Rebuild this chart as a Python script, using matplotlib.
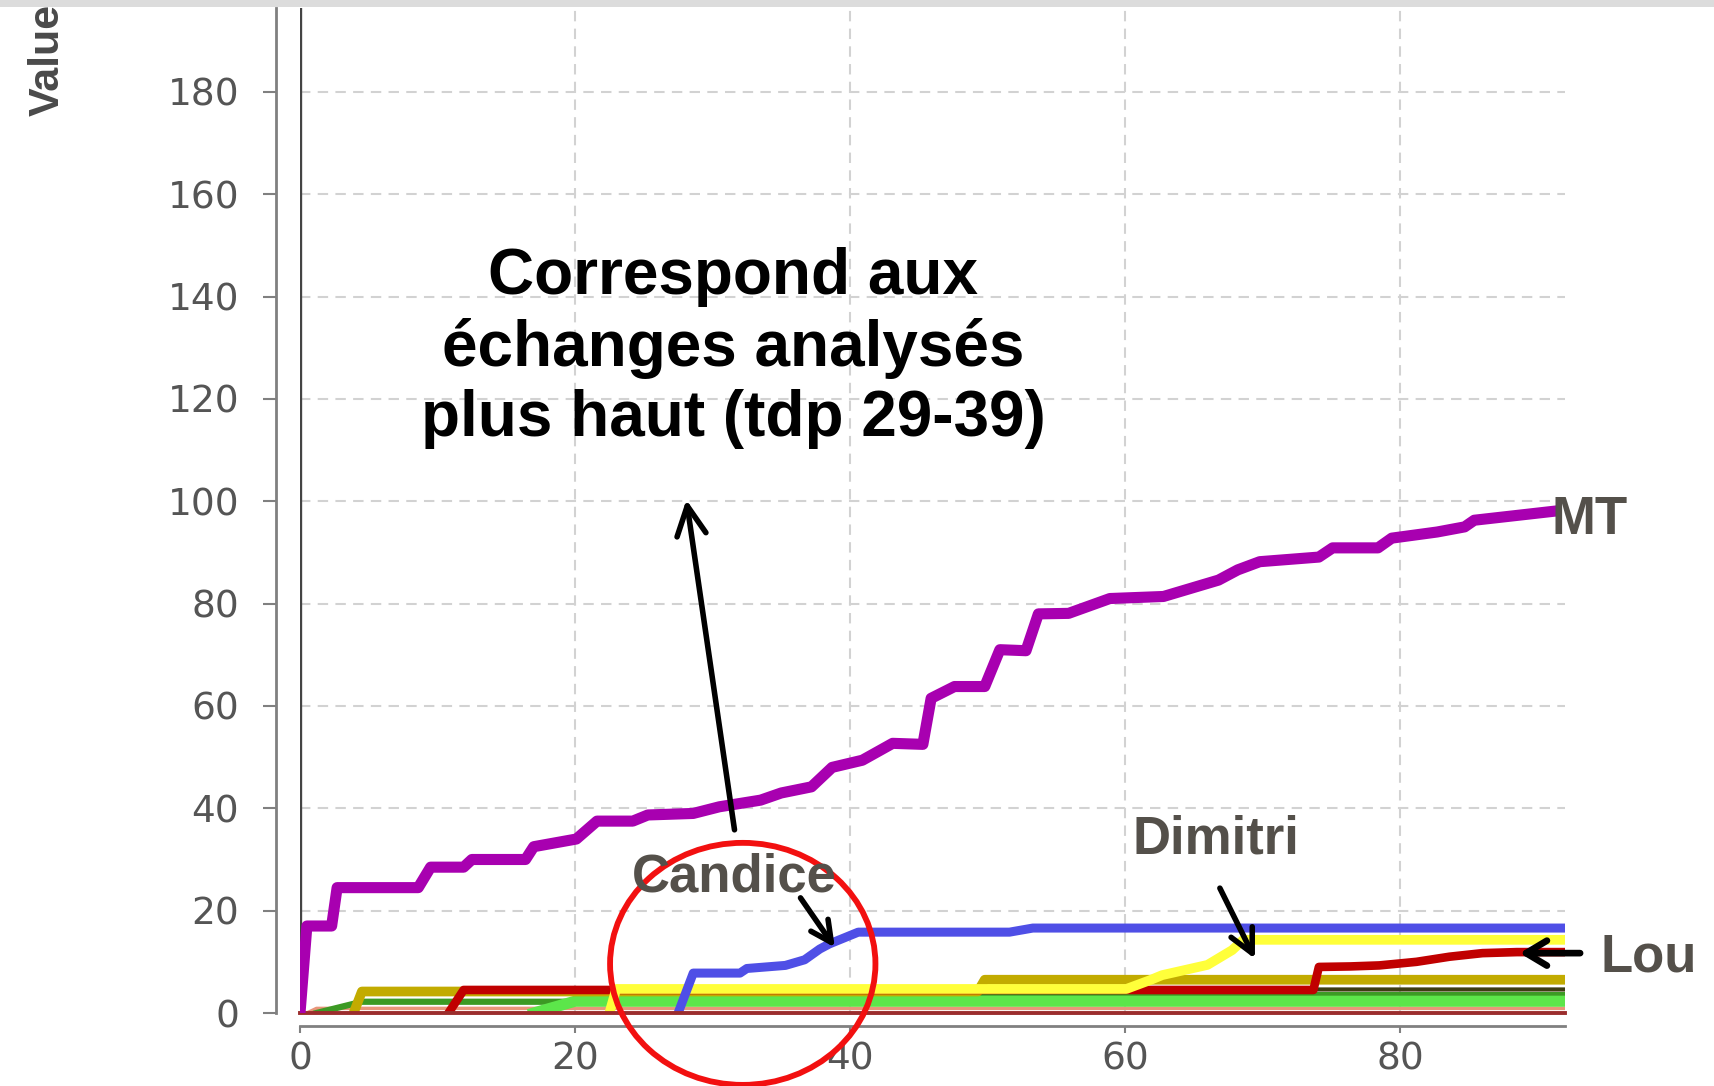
import matplotlib
matplotlib.use("Agg")
import matplotlib.pyplot as plt
from matplotlib.patches import Ellipse, Rectangle

# ---------------- data ----------------
mt_x = [0, 0.5, 2.3, 2.7, 8.6, 9.5, 11.9, 12.5, 16.4, 17.0, 20.1, 21.6, 24.2, 25.3,
        28.6, 30.5, 33.5, 35.0, 37.2, 38.7, 40.9, 43.1, 45.3, 45.9, 47.6, 49.8, 50.9,
        52.8, 53.7, 55.9, 58.9, 62.8, 64.8, 66.8, 68.2, 69.8, 74.1, 75.1, 78.4, 79.4,
        82.7, 84.7, 85.4, 88.7, 91.0]
mt_v = [0, 17, 17, 24.5, 24.5, 28.5, 28.5, 30, 30, 32.5, 34, 37.5, 37.5, 38.7,
        39, 40.3, 41.6, 43, 44.2, 48, 49.4, 52.7, 52.5, 61.5, 63.8, 63.8, 71,
        70.8, 78, 78.1, 81, 81.4, 83, 84.6, 86.6, 88.2, 89.1, 90.9, 90.9, 92.8,
        94, 95, 96.3, 97.3, 98]

candice_x = [27.5, 28.6, 32.0, 32.5, 35.3, 36.7, 37.8, 38.5, 40.6, 51.6, 53.3, 92]
candice_v = [0, 7.8, 7.8, 8.7, 9.3, 10.4, 12.5, 13.5, 15.8, 15.8, 16.6, 16.6]

dimitri_x = [22.5, 23.0, 60.1, 61.8, 62.7, 66.0, 67.8, 68.6, 92]
dimitri_v = [0, 4.7, 4.7, 6.4, 7.4, 9.4, 12.3, 14.3, 14.3]

lou_x = [10.8, 11.9, 73.7, 74.1, 76.4, 78.5, 81.2, 83.6, 86.0, 88.5, 92]
lou_v = [0, 4.5, 4.5, 9.0, 9.1, 9.3, 10.0, 11.0, 11.7, 11.9, 11.9]

olive_x = [3.9, 4.5, 49.3, 49.8, 92]
olive_v = [0, 4.2, 4.2, 6.5, 6.5]

dark_x = [10.8, 11.9, 92]
dark_v = [0, 4.6, 4.6]

dgreen_x = [1.2, 4.5, 46.0, 46.8, 92]
dgreen_v = [0, 2.2, 2.2, 3.5, 3.5]

lime_x = [17.0, 20.0, 92]
lime_v = [0, 2.3, 2.3]

salmon_x = [0.5, 1.2, 92]
salmon_v = [0, 0.9, 0.9]

base_x = [0, 92]
base_v = [0, 0]

x_ticks = [0, 20, 40, 60, 80]
y_ticks = [0, 20, 40, 60, 80, 100, 120, 140, 160, 180]

title_text = "Correspond aux\néchanges analysés\nplus haut (tdp 29-39)"

# ---------------- figure ----------------
W, H = 1715, 1086
fig = plt.figure(figsize=(W / 100, H / 100), dpi=100)
fig.patch.set_facecolor("white")

x0_px, y0_px = 300, 1013
px_x, px_y = 13.75, 5.117
xmax, ymax = 92, 196.5
ax = fig.add_axes([x0_px / W, (H - y0_px) / H, xmax * px_x / W, ymax * px_y / H])
ax.set_xlim(0, xmax)
ax.set_ylim(0, ymax)
ax.set_facecolor("white")

for s in ["top", "right"]:
    ax.spines[s].set_visible(False)
ax.spines["left"].set_position(("outward", 17.3))
ax.spines["bottom"].set_position(("outward", 9.4))
for s in ["left", "bottom"]:
    ax.spines[s].set_color("#808080")
    ax.spines[s].set_linewidth(2.0)

ax.set_xticks(x_ticks)
ax.set_yticks(y_ticks)
ax.set_xticklabels([str(t) for t in x_ticks])
ax.set_yticklabels([str(t) for t in y_ticks])
ax.tick_params(axis="y", length=9.4, width=1.5, color="#808080", pad=17,
               labelsize=27, labelcolor="#555555")
ax.tick_params(axis="x", length=5, width=1.5, color="#808080", pad=6,
               labelsize=27, labelcolor="#555555")
for lab in ax.get_xticklabels() + ax.get_yticklabels():
    lab.set_family("DejaVu Sans")

ax.set_axisbelow(True)
ax.grid(True, color="#d2d2d2", linestyle=(0, (5, 3.5)), linewidth=1.5)

# dark line at x = 0
ax.axvline(0, color="#444444", lw=2.4, zorder=3)

# ---------------- series ----------------
ax.plot(salmon_x, salmon_v, color="#e8967a", lw=2.5, zorder=4)
ax.plot(dgreen_x, dgreen_v, color="#3c9a24", lw=4.5, zorder=5)
ax.plot(lime_x, lime_v, color="#5ce64a", lw=8, zorder=6)
ax.plot(dark_x, dark_v, color="#3e3d12", lw=3, zorder=7)
ax.plot(olive_x, olive_v, color="#c2ab00", lw=7, zorder=8)
ax.plot(lou_x, lou_v, color="#c00000", lw=6.2, zorder=9)
ax.plot(dimitri_x, dimitri_v, color="#ffff3a", lw=7, zorder=10)
ax.plot(candice_x, candice_v, color="#4f4fe6", lw=6.5, zorder=11)
ax.plot(base_x, base_v, color="#9b2d2d", lw=2.8, zorder=12, clip_on=False)
ax.plot(mt_x, mt_v, color="#a800b0", lw=8, zorder=13)

# ---------------- annotations ----------------
lab_font = dict(family=["Liberation Sans", "DejaVu Sans"], fontweight="bold",
                color="#54504a", fontsize=38)

ax.add_patch(Ellipse((32.2, 9.6), width=19.3, height=47.3, fill=False,
                     edgecolor="#f21010", lw=4.2, clip_on=False, zorder=14))

ax.text(31.6, 26.4, "Candice", ha="center", va="center", zorder=16, clip_on=False, **lab_font)
ax.text(66.6, 34.0, "Dimitri", ha="center", va="center", zorder=16, clip_on=False, **lab_font)
ax.text(98.1, 10.9, "Lou", ha="center", va="center", zorder=16, clip_on=False, **lab_font)
ax.text(91.0, 96.4, "MT", ha="left", va="center", zorder=16, clip_on=False, **lab_font)

def arrow(head, tail, lw, hl, hw):
    ax.annotate("", xy=head, xytext=tail, annotation_clip=False, zorder=17,
                arrowprops=dict(arrowstyle=f"->,head_length={hl},head_width={hw}",
                                lw=lw, color="black", shrinkA=0, shrinkB=0,
                                mutation_scale=1, joinstyle="round", capstyle="round"))

arrow((28.1, 100.3), (31.6, 35.8), 4.0, 21, 10.5)
arrow((38.9, 12.8), (36.4, 22.5), 4.0, 15, 7.5)
arrow((69.45, 10.6), (66.9, 24.4), 4.0, 17, 8.5)
arrow((88.7, 11.7), (93.1, 11.7), 4.8, 15, 9)

fig.text(733 / W, 1 - 348 / H, title_text, ha="center", va="center",
         multialignment="center", fontsize=46, fontweight="bold", color="black",
         family=["Liberation Sans", "DejaVu Sans"], linespacing=1.22, zorder=20)

fig.text(47.5 / W, 1 - 116 / H, "Value", rotation=90, ha="center", va="bottom",
         fontsize=31, fontweight="heavy", color="#4a4a4a",
         family=["Liberation Sans", "DejaVu Sans"], zorder=5)

# light grey strip along the top edge
fig.patches.append(Rectangle((0, 1 - 7 / H), 1, 7 / H, transform=fig.transFigure,
                             facecolor="#dcdcdc", edgecolor="none", zorder=30))

fig.savefig("out.png", dpi=100, facecolor="white")
